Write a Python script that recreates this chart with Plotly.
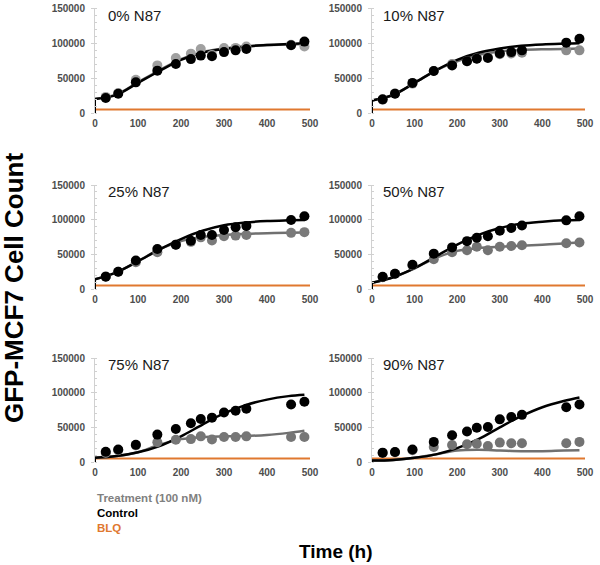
import plotly.graph_objects as go

# ---------------- data ----------------
panels = ["0% N87", "10% N87", "25% N87", "50% N87", "75% N87", "90% N87"]
time_pts = [25, 54, 95, 145, 188, 223, 246, 272, 300, 327, 352, 456, 487]
time_curve = [0, 50, 100, 150, 200, 250, 300, 350, 400, 450, 487]
x_ticks = [0, 100, 200, 300, 400, 500]
y_ticks = [0, 50000, 100000, 150000]
y_tick_labels = ["0", "50000", "100000", "150000"]
BLQ = 5000
blq_x = [0, 500]

control_pts = [
    [21400, 27600, 43800, 60500, 70000, 77000, 82000, 81000, 87000, 89500, 91400, 96700, 102000],
    [19500, 27600, 43000, 60000, 68000, 74000, 77600, 78600, 85000, 87000, 89500, 100500, 106000],
    [17800, 25000, 41000, 57700, 64000, 69700, 78000, 78000, 85000, 89000, 91000, 99500, 105000],
    [17500, 22000, 35000, 51000, 60000, 69000, 74000, 76000, 84000, 88000, 91500, 99000, 105000],
    [14800, 18000, 25000, 39500, 47600, 56000, 62000, 64000, 71400, 74000, 76700, 83000, 87000],
    [13500, 14400, 18000, 29000, 38500, 44000, 49500, 50500, 61500, 65000, 68000, 79000, 83000],
]
treatment_pts = [
    [23000, 28500, 47600, 68000, 78600, 84800, 91400, 83000, 92900, 93000, 95000, 97600, 95000],
    [19000, 28000, 42000, 60000, 70000, 74000, 78000, 80000, 84000, 85000, 86000, 89500, 89500],
    [18000, 25000, 38500, 53000, 64000, 68000, 74500, 70000, 76000, 77000, 78000, 81000, 82000],
    [17000, 22000, 34000, 43000, 53000, 56000, 61000, 56000, 61000, 62000, 63000, 66000, 67000],
    [13000, 17000, 24000, 28500, 32000, 33000, 37000, 32400, 36000, 36000, 37000, 36000, 36000],
    [13000, 14000, 17000, 21600, 24500, 25500, 26400, 23000, 28000, 27000, 27000, 27000, 29000],
]
control_curve = [
    [20000, 26000, 43000, 60000, 76000, 86000, 91500, 95000, 97000, 98500, 99500],
    [18000, 26000, 43000, 61000, 76000, 86000, 92000, 96000, 98000, 99000, 99500],
    [14000, 24000, 40000, 57000, 72000, 84000, 92000, 96000, 98000, 99000, 99500],
    [9000, 17000, 30000, 47000, 64000, 78000, 88000, 94000, 97000, 99000, 99500],
    [6000, 8500, 14000, 23000, 37000, 54000, 70000, 82000, 90000, 95000, 97000],
    [2000, 3000, 6000, 11000, 20000, 33000, 50000, 66000, 79000, 88000, 93000],
]
treatment_curve = [
    [20000, 26500, 44000, 61000, 77000, 87000, 92000, 95000, 97000, 98000, 98500],
    [18000, 26000, 43000, 61000, 74000, 83000, 88000, 90000, 91000, 91500, 92000],
    [14000, 24000, 40000, 57000, 69000, 75000, 78000, 79500, 80500, 81000, 81500],
    [9000, 17000, 30000, 45000, 55000, 59000, 61000, 62500, 64000, 65500, 67000],
    [6000, 8500, 14000, 25000, 33000, 36000, 37000, 37500, 39000, 42000, 45000],
    [2000, 3000, 6000, 11000, 16500, 17500, 16500, 15500, 15500, 16500, 17000],
]
legend_labels = ["Treatment (100 nM)", "Control", "BLQ"]

# ---------------- styling / layout ----------------
W, H = 600, 565
col_px = [(95, 310), (372, 585)]
row_px = [(8, 113), (185, 289), (358, 462)]
treat_marker_colors = ["#a0a0a0", "#8c8c8c", "#7a7a7a", "#737373", "#767676", "#737373"]
treat_line = "#707070"
orange = "#E0782F"
FONT = "Liberation Sans, Arial, sans-serif"

fig = go.Figure()
layout = dict(
    width=W, height=H, margin=dict(l=0, r=0, t=0, b=0, autoexpand=False),
    paper_bgcolor="white", plot_bgcolor="white", showlegend=False,
    font=dict(family=FONT), hovermode=False,
)
annotations = []

for i, name in enumerate(panels):
    r, c = divmod(i, 2)
    ax = "" if i == 0 else str(i + 1)
    xa, ya = "x" + ax, "y" + ax
    x0, x1 = col_px[c]
    y0, y1 = row_px[r]
    layout["xaxis" + ax] = dict(
        domain=[x0 / W, x1 / W], range=[0, 500], anchor=ya, automargin=False,
        tickvals=x_ticks, showgrid=False, zeroline=False,
        showline=False, ticks="", ticklabelstandoff=3,
        tickfont=dict(size=10, color="#4d4d4d", family=FONT, weight="bold"),
        fixedrange=True,
    )
    layout["yaxis" + ax] = dict(
        domain=[1 - y1 / H, 1 - y0 / H], range=[0, 150000], anchor=xa, automargin=False,
        tickvals=y_ticks, ticktext=y_tick_labels, showgrid=False, zeroline=False,
        showline=True, linecolor="#d0d0d0", linewidth=1,
        ticks="outside", ticklen=3, tickcolor="#d0d0d0",
        minor=dict(ticks="inside", ticklen=2, tickcolor="#d0d0d0", dtick=10000),
        tickfont=dict(size=10, color="#4d4d4d", family=FONT, weight="bold"),
        ticklabelstandoff=4, fixedrange=True,
    )
    # BLQ line
    fig.add_trace(go.Scatter(x=blq_x, y=[BLQ, BLQ], mode="lines", xaxis=xa, yaxis=ya,
                             line=dict(color=orange, width=2), hoverinfo="skip"))
    # model curves
    fig.add_trace(go.Scatter(x=time_curve, y=treatment_curve[i], mode="lines", xaxis=xa, yaxis=ya,
                             line=dict(color=treat_line, width=2.5, shape="spline")))
    fig.add_trace(go.Scatter(x=[0, 0], y=[0, control_curve[i][0]], mode="lines", xaxis=xa, yaxis=ya,
                             line=dict(color="black", width=2)))
    fig.add_trace(go.Scatter(x=time_curve, y=control_curve[i], mode="lines", xaxis=xa, yaxis=ya,
                             line=dict(color="black", width=2.5, shape="spline")))
    # observed points
    fig.add_trace(go.Scatter(x=time_pts, y=treatment_pts[i], mode="markers", xaxis=xa, yaxis=ya,
                             marker=dict(color=treat_marker_colors[i], size=10)))
    fig.add_trace(go.Scatter(x=time_pts, y=control_pts[i], mode="markers", xaxis=xa, yaxis=ya,
                             marker=dict(color="black", size=10)))
    annotations.append(dict(text=name, x=25 if c == 0 else 20, y=140000, xref=xa, yref=ya,
                            xanchor="left", yanchor="middle", showarrow=False,
                            font=dict(size=15, color="#1a1a1a", family=FONT)))

# legend-like texts
leg_colors = ["#808080", "black", orange]
leg_y = [498, 513, 528]
for lab, col, yy in zip(legend_labels, leg_colors, leg_y):
    annotations.append(dict(text="<b>%s</b>" % lab, x=95 / W, y=1 - yy / H, xref="paper", yref="paper",
                            xanchor="left", yanchor="middle", showarrow=False,
                            font=dict(size=11.5, color=col, family=FONT)))

annotations.append(dict(text="<b>Time (h)</b>", x=336 / W, y=1 - 551 / H, xref="paper", yref="paper",
                        xanchor="center", yanchor="middle", showarrow=False,
                        font=dict(size=19, color="black", family=FONT)))
annotations.append(dict(text="<b>GFP-MCF7 Cell Count</b>", x=14 / W, y=1 - 288 / H, xref="paper", yref="paper",
                        xanchor="center", yanchor="middle", showarrow=False, textangle=-90,
                        font=dict(size=26, color="black", family=FONT)))

layout["annotations"] = annotations
fig.update_layout(**layout)
fig.write_html("out.html", config={"displayModeBar": False, "staticPlot": True},
               post_script="document.body.style.margin='0';document.body.style.padding='0';")
